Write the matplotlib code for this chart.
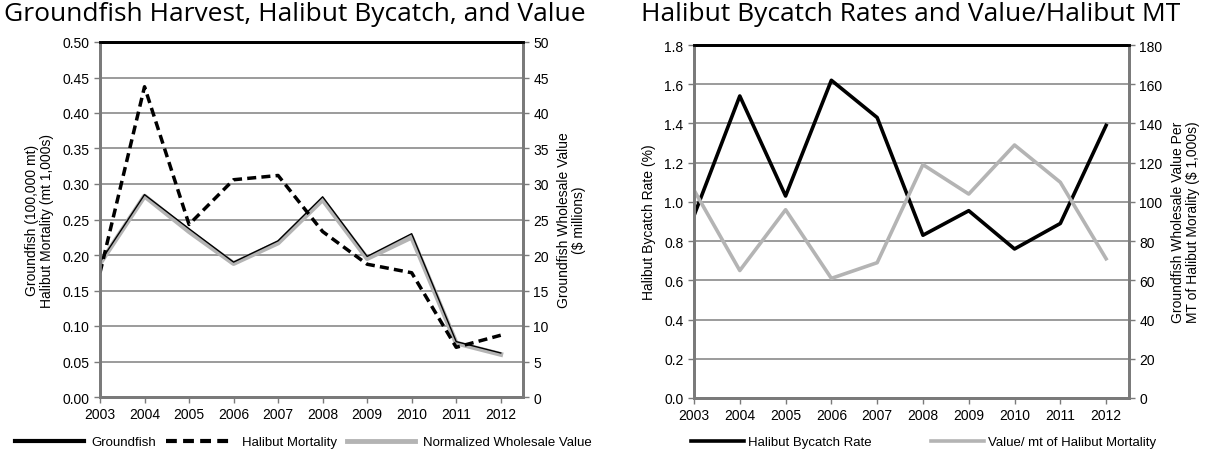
import matplotlib
matplotlib.use('Agg')
import matplotlib.pyplot as plt

# Data by year
years = ['2003', '2004', '2005', '2006', '2007', '2008', '2009', '2010', '2011', '2012']
groundfish = [0.190, 0.285, 0.237, 0.190, 0.220, 0.282, 0.198, 0.230, 0.078, 0.062]
halibut_mortality = [0.175, 0.437, 0.243, 0.306, 0.312, 0.233, 0.187, 0.175, 0.070, 0.087]
wholesale_value = [18.8, 28.3, 23.3, 18.8, 21.7, 27.8, 19.5, 22.5, 7.6, 6.0]

bycatch_rate = [0.93, 1.54, 1.03, 1.62, 1.43, 0.83, 0.955, 0.76, 0.89, 1.39]
value_per_mt = [106, 65, 96, 61, 69, 119, 104, 129, 110, 71]

plt.rcParams['font.family'] = ['Liberation Sans', 'DejaVu Sans']
plt.rcParams['font.size'] = 9.5

GRID = '#8a8a8a'
SPINE = '#7a7a7a'
LIGHT = '#b4b4b4'
x = list(range(len(years)))

fig = plt.figure(figsize=(12.12, 4.56), dpi=100)


def style_pair(ax, ax2, ymax_l, step_l, ymax_r, step_r, fmt_l):
    # twin axis sits underneath and carries the grid, main axis on top
    ax.set_zorder(ax2.get_zorder() + 1)
    ax.patch.set_visible(False)
    ax.set_xlim(0, 9.5)
    ax.set_ylim(0, ymax_l)
    ax2.set_ylim(0, ymax_r)
    n = int(round(ymax_l / step_l))
    ax.set_yticks([i * step_l for i in range(n + 1)])
    ax.set_yticklabels([fmt_l.format(i * step_l) for i in range(n + 1)])
    ax2.set_yticks([i * step_r for i in range(n + 1)])
    ax.set_xticks(x)
    ax.set_xticklabels(years)
    ax2.grid(axis='y', color=GRID, linewidth=1.2)
    ax2.set_axisbelow(True)
    for a in (ax, ax2):
        for side in ('left', 'right', 'bottom'):
            a.spines[side].set_color(SPINE)
            a.spines[side].set_linewidth(2)
        a.spines['top'].set_color('black')
        a.spines['top'].set_linewidth(2)
        a.tick_params(colors=SPINE, length=4, width=1, labelcolor='black', labelsize=10)
    ax.tick_params(axis='x', pad=3)


# Left panel: harvest, bycatch and value
ax1 = fig.add_axes([100 / 1212, 1 - 398 / 456, 423 / 1212, 355 / 456])
ax1b = ax1.twinx()
style_pair(ax1, ax1b, 0.5, 0.05, 50, 5, '{:.2f}')
l3, = ax1b.plot(x, wholesale_value, color=LIGHT, linewidth=3.5,
                label='Normalized Wholesale Value')
l1, = ax1.plot(x, groundfish, color='black', linewidth=1, label='Groundfish')
l2, = ax1.plot(x, halibut_mortality, color='black', linewidth=2.5, linestyle=(0, (2.6, 1.5)),
               label='Halibut Mortality')
ax1.set_ylabel('Groundfish (100,000 mt)\nHalibut Mortality (mt 1,000s)', fontsize=10,
               linespacing=1.1, labelpad=6)
ax1b.set_ylabel('Groundfish Wholesale Value\n($ millions)', fontsize=10, linespacing=1.1,
                labelpad=6)
leg1 = fig.legend([l1, l2, l3], ['Groundfish', 'Halibut Mortality', 'Normalized Wholesale Value'],
                  loc='center left', bbox_to_anchor=(10 / 1212, 1 - 443 / 456), ncol=3,
                  frameon=False, handlelength=5.2, handletextpad=0.6, columnspacing=0.7,
                  fontsize=9.5, borderaxespad=0)
leg1.get_lines()[0].set_linewidth(3)
leg1.get_lines()[1].set_linewidth(3)
fig.text(4 / 1212, 1 - 2 / 456, 'Groundfish Harvest, Halibut Bycatch, and Value',
         family=['Open Sans', 'DejaVu Sans'], fontsize=19, va='top', ha='left')

# Right panel: bycatch rate and value per mt
ax2 = fig.add_axes([694 / 1212, 1 - 399 / 456, 435 / 1212, 353 / 456])
ax2b = ax2.twinx()
style_pair(ax2, ax2b, 1.8, 0.2, 180, 20, '{:.1f}')
ax2.set_zorder(ax2b.get_zorder() - 1)
ax2.patch.set_visible(True)
ax2b.patch.set_visible(False)
ax2.grid(axis='y', color=GRID, linewidth=1.2)
ax2.set_axisbelow(True)
ax2b.grid(False)
m1, = ax2.plot(x, bycatch_rate, color='black', linewidth=2.6, label='Halibut Bycatch Rate')
m2, = ax2b.plot(x, value_per_mt, color=LIGHT, linewidth=2.6, label='Value/ mt of Halibut Mortality')
ax2.set_ylabel('Halibut Bycatch Rate (%)', fontsize=10, labelpad=6)
ax2b.set_ylabel('Groundfish Wholesale Value Per\nMT of Halibut Morality ($ 1,000s)', fontsize=10,
                linespacing=1.1, labelpad=6)
fig.legend([m1, m2], ['Halibut Bycatch Rate', 'Value/ mt of Halibut Mortality'],
           loc='center left', bbox_to_anchor=(686 / 1212, 1 - 443 / 456), ncol=2,
           frameon=False, handlelength=4.0, handletextpad=0.3, columnspacing=4.5,
           fontsize=9.5, borderaxespad=0)
fig.text(641 / 1212, 1 - 2 / 456, 'Halibut Bycatch Rates and Value/Halibut MT',
         family=['Open Sans', 'DejaVu Sans'], fontsize=19, va='top', ha='left')

fig.savefig('out.png', dpi=100)
